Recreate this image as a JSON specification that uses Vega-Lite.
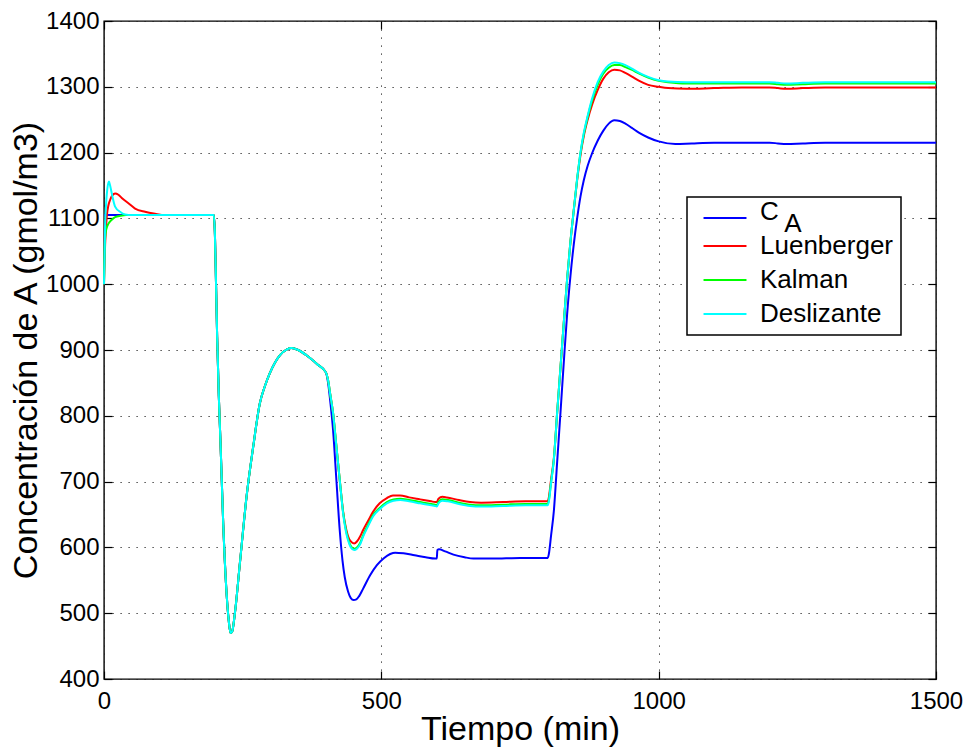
{
  "$schema": "https://vega.github.io/schema/vega-lite/v6.json",
  "width": 832,
  "height": 658,
  "autosize": {"type": "none"},
  "padding": {"left": 104, "top": 21, "right": 32, "bottom": 72},
  "background": "white",
  "config": {
    "view": {"stroke": "black", "strokeWidth": 1.4},
    "font": "Liberation Sans",
    "axis": {
      "labelFont": "Liberation Sans", "labelFontSize": 24, "labelColor": "black",
      "titleFont": "Liberation Sans", "titleFontSize": 34, "titleFontWeight": "normal", "titleColor": "black",
      "gridColor": "#222", "gridDash": [1.2, 6.8], "gridWidth": 1, "gridOpacity": 1,
      "tickColor": "black", "tickWidth": 1.2, "domain": false, "format": "d"
    }
  },
  "data": {"values": [
    {"s":"CA","t":0,"v":1105},{"s":"CA","t":100,"v":1105},
    {"s":"CA","t":198,"v":1105},{"s":"CA","t":200,"v":1075},{"s":"CA","t":202,"v":1000},{"s":"CA","t":204,"v":920},{"s":"CA","t":207,"v":830},{"s":"CA","t":210,"v":760},{"s":"CA","t":215,"v":635},{"s":"CA","t":221,"v":530},{"s":"CA","t":225,"v":488},{"s":"CA","t":228,"v":470},{"s":"CA","t":231,"v":472},{"s":"CA","t":236,"v":500},{"s":"CA","t":245,"v":576},{"s":"CA","t":257,"v":677},{"s":"CA","t":269,"v":753},{"s":"CA","t":281,"v":819},{"s":"CA","t":290,"v":845},{"s":"CA","t":299,"v":865},{"s":"CA","t":317,"v":892},{"s":"CA","t":330,"v":901},{"s":"CA","t":338,"v":903},{"s":"CA","t":350,"v":900},{"s":"CA","t":365,"v":892},{"s":"CA","t":385,"v":878},{"s":"CA","t":400,"v":866},
    {"s":"CA","t":404,"v":850},{"s":"CA","t":407,"v":829},{"s":"CA","t":413,"v":778},{"s":"CA","t":419,"v":702},{"s":"CA","t":425,"v":626},{"s":"CA","t":430,"v":580},{"s":"CA","t":434,"v":555},{"s":"CA","t":440,"v":533},{"s":"CA","t":445,"v":523},{"s":"CA","t":450,"v":520},{"s":"CA","t":455,"v":521},{"s":"CA","t":460,"v":526},{"s":"CA","t":467,"v":537},{"s":"CA","t":480,"v":558},{"s":"CA","t":492,"v":573},{"s":"CA","t":505,"v":584},{"s":"CA","t":516,"v":590},{"s":"CA","t":525,"v":592},{"s":"CA","t":540,"v":591},{"s":"CA","t":560,"v":588},{"s":"CA","t":580,"v":585},{"s":"CA","t":597,"v":583},{"s":"CA","t":600,"v":583},{"s":"CA","t":601,"v":596},{"s":"CA","t":604,"v":597},{"s":"CA","t":615,"v":594},{"s":"CA","t":630,"v":589},{"s":"CA","t":650,"v":585},{"s":"CA","t":666,"v":583},{"s":"CA","t":700,"v":583},{"s":"CA","t":750,"v":584},{"s":"CA","t":800,"v":584},{"s":"CA","t":802,"v":590},{"s":"CA","t":806,"v":618},{"s":"CA","t":811,"v":655},{"s":"CA","t":817,"v":730},{"s":"CA","t":823,"v":805},{"s":"CA","t":829,"v":882},{"s":"CA","t":835,"v":955},{"s":"CA","t":841,"v":1013},{"s":"CA","t":847,"v":1061},{"s":"CA","t":853,"v":1100},{"s":"CA","t":859,"v":1133},{"s":"CA","t":865,"v":1158},{"s":"CA","t":872,"v":1180},{"s":"CA","t":880,"v":1199},{"s":"CA","t":890,"v":1218},{"s":"CA","t":900,"v":1233},{"s":"CA","t":910,"v":1244},{"s":"CA","t":920,"v":1249},{"s":"CA","t":930,"v":1248},{"s":"CA","t":940,"v":1244},{"s":"CA","t":951,"v":1238},{"s":"CA","t":965,"v":1230},{"s":"CA","t":981,"v":1223},{"s":"CA","t":1000,"v":1217},{"s":"CA","t":1030,"v":1213},{"s":"CA","t":1060,"v":1214},{"s":"CA","t":1100,"v":1215},{"s":"CA","t":1150,"v":1215},{"s":"CA","t":1200,"v":1215},{"s":"CA","t":1215,"v":1214},{"s":"CA","t":1230,"v":1213},{"s":"CA","t":1260,"v":1214},{"s":"CA","t":1300,"v":1215},{"s":"CA","t":1400,"v":1215},{"s":"CA","t":1500,"v":1215},

    {"s":"Luenberger","t":0,"v":1000},{"s":"Luenberger","t":2,"v":1060},{"s":"Luenberger","t":5,"v":1103},{"s":"Luenberger","t":8,"v":1120},{"s":"Luenberger","t":11,"v":1128},{"s":"Luenberger","t":15,"v":1135},{"s":"Luenberger","t":20,"v":1138},{"s":"Luenberger","t":26,"v":1136},{"s":"Luenberger","t":32,"v":1131},{"s":"Luenberger","t":44,"v":1123},{"s":"Luenberger","t":56,"v":1115},{"s":"Luenberger","t":74,"v":1110},{"s":"Luenberger","t":92,"v":1107},{"s":"Luenberger","t":110,"v":1105},
    {"s":"Luenberger","t":198,"v":1105},{"s":"Luenberger","t":200,"v":1075},{"s":"Luenberger","t":202,"v":1000},{"s":"Luenberger","t":204,"v":920},{"s":"Luenberger","t":207,"v":830},{"s":"Luenberger","t":210,"v":760},{"s":"Luenberger","t":215,"v":635},{"s":"Luenberger","t":221,"v":530},{"s":"Luenberger","t":225,"v":488},{"s":"Luenberger","t":228,"v":470},{"s":"Luenberger","t":231,"v":472},{"s":"Luenberger","t":236,"v":500},{"s":"Luenberger","t":245,"v":576},{"s":"Luenberger","t":257,"v":677},{"s":"Luenberger","t":269,"v":753},{"s":"Luenberger","t":281,"v":819},{"s":"Luenberger","t":290,"v":845},{"s":"Luenberger","t":299,"v":865},{"s":"Luenberger","t":317,"v":892},{"s":"Luenberger","t":330,"v":901},{"s":"Luenberger","t":338,"v":903},{"s":"Luenberger","t":350,"v":900},{"s":"Luenberger","t":365,"v":892},{"s":"Luenberger","t":385,"v":878},{"s":"Luenberger","t":400,"v":866},
    {"s":"Luenberger","t":404,"v":854},{"s":"Luenberger","t":408,"v":832},{"s":"Luenberger","t":413,"v":804},{"s":"Luenberger","t":418,"v":762},{"s":"Luenberger","t":422,"v":728},{"s":"Luenberger","t":427,"v":686},{"s":"Luenberger","t":431,"v":655},{"s":"Luenberger","t":436,"v":630},{"s":"Luenberger","t":440,"v":617},{"s":"Luenberger","t":445,"v":609},{"s":"Luenberger","t":451,"v":606},{"s":"Luenberger","t":456,"v":609},{"s":"Luenberger","t":462,"v":617},{"s":"Luenberger","t":467,"v":626},{"s":"Luenberger","t":476,"v":640},{"s":"Luenberger","t":485,"v":654},{"s":"Luenberger","t":497,"v":667},{"s":"Luenberger","t":510,"v":675},{"s":"Luenberger","t":521,"v":679},{"s":"Luenberger","t":534,"v":679},{"s":"Luenberger","t":550,"v":676},{"s":"Luenberger","t":570,"v":673},{"s":"Luenberger","t":590,"v":670},{"s":"Luenberger","t":597,"v":669},{"s":"Luenberger","t":600,"v":669},{"s":"Luenberger","t":603,"v":674},{"s":"Luenberger","t":610,"v":677},{"s":"Luenberger","t":618,"v":676},{"s":"Luenberger","t":640,"v":672},{"s":"Luenberger","t":660,"v":669},{"s":"Luenberger","t":680,"v":668},{"s":"Luenberger","t":720,"v":669},{"s":"Luenberger","t":760,"v":670},{"s":"Luenberger","t":800,"v":670},{"s":"Luenberger","t":802,"v":676},{"s":"Luenberger","t":806,"v":703},{"s":"Luenberger","t":811,"v":735},{"s":"Luenberger","t":817,"v":805},{"s":"Luenberger","t":826,"v":908},{"s":"Luenberger","t":835,"v":1008},{"s":"Luenberger","t":841,"v":1065},{"s":"Luenberger","t":847,"v":1113},{"s":"Luenberger","t":853,"v":1158},{"s":"Luenberger","t":859,"v":1196},{"s":"Luenberger","t":865,"v":1225},{"s":"Luenberger","t":872,"v":1250},{"s":"Luenberger","t":880,"v":1273},{"s":"Luenberger","t":890,"v":1295},{"s":"Luenberger","t":900,"v":1312},{"s":"Luenberger","t":910,"v":1322},{"s":"Luenberger","t":920,"v":1326},{"s":"Luenberger","t":930,"v":1325},{"s":"Luenberger","t":940,"v":1321},{"s":"Luenberger","t":951,"v":1316},{"s":"Luenberger","t":965,"v":1309},{"s":"Luenberger","t":981,"v":1303},{"s":"Luenberger","t":1000,"v":1300},{"s":"Luenberger","t":1017,"v":1298},{"s":"Luenberger","t":1050,"v":1297},{"s":"Luenberger","t":1100,"v":1298},{"s":"Luenberger","t":1150,"v":1299},{"s":"Luenberger","t":1200,"v":1299},{"s":"Luenberger","t":1215,"v":1298},{"s":"Luenberger","t":1230,"v":1297},{"s":"Luenberger","t":1260,"v":1298},{"s":"Luenberger","t":1300,"v":1299},{"s":"Luenberger","t":1500,"v":1299},

    {"s":"Kalman","t":0,"v":1000},{"s":"Kalman","t":1,"v":1045},{"s":"Kalman","t":2,"v":1070},{"s":"Kalman","t":4,"v":1083},{"s":"Kalman","t":8,"v":1092},{"s":"Kalman","t":14,"v":1098},{"s":"Kalman","t":20,"v":1102},{"s":"Kalman","t":30,"v":1104},{"s":"Kalman","t":40,"v":1105},{"s":"Kalman","t":100,"v":1105},
    {"s":"Kalman","t":198,"v":1105},{"s":"Kalman","t":200,"v":1075},{"s":"Kalman","t":202,"v":1000},{"s":"Kalman","t":204,"v":920},{"s":"Kalman","t":207,"v":830},{"s":"Kalman","t":210,"v":760},{"s":"Kalman","t":215,"v":635},{"s":"Kalman","t":221,"v":530},{"s":"Kalman","t":225,"v":488},{"s":"Kalman","t":228,"v":470},{"s":"Kalman","t":231,"v":472},{"s":"Kalman","t":236,"v":500},{"s":"Kalman","t":245,"v":576},{"s":"Kalman","t":257,"v":677},{"s":"Kalman","t":269,"v":753},{"s":"Kalman","t":281,"v":819},{"s":"Kalman","t":290,"v":845},{"s":"Kalman","t":299,"v":865},{"s":"Kalman","t":317,"v":892},{"s":"Kalman","t":330,"v":901},{"s":"Kalman","t":338,"v":903},{"s":"Kalman","t":350,"v":900},{"s":"Kalman","t":365,"v":892},{"s":"Kalman","t":385,"v":878},{"s":"Kalman","t":400,"v":866},
    {"s":"Kalman","t":404,"v":854},{"s":"Kalman","t":408,"v":832},{"s":"Kalman","t":413,"v":804},{"s":"Kalman","t":418,"v":762},{"s":"Kalman","t":422,"v":728},{"s":"Kalman","t":427,"v":686},{"s":"Kalman","t":431,"v":654},{"s":"Kalman","t":436,"v":627},{"s":"Kalman","t":440,"v":613},{"s":"Kalman","t":445,"v":602},{"s":"Kalman","t":451,"v":598},{"s":"Kalman","t":456,"v":600},{"s":"Kalman","t":462,"v":607},{"s":"Kalman","t":467,"v":618},{"s":"Kalman","t":476,"v":634},{"s":"Kalman","t":485,"v":649},{"s":"Kalman","t":497,"v":660},{"s":"Kalman","t":510,"v":669},{"s":"Kalman","t":522,"v":673},{"s":"Kalman","t":534,"v":674},{"s":"Kalman","t":550,"v":672},{"s":"Kalman","t":570,"v":669},{"s":"Kalman","t":590,"v":666},{"s":"Kalman","t":597,"v":665},{"s":"Kalman","t":600,"v":664},{"s":"Kalman","t":603,"v":669},{"s":"Kalman","t":610,"v":673},{"s":"Kalman","t":620,"v":672},{"s":"Kalman","t":640,"v":668},{"s":"Kalman","t":660,"v":665},{"s":"Kalman","t":680,"v":664},{"s":"Kalman","t":720,"v":665},{"s":"Kalman","t":760,"v":666},{"s":"Kalman","t":800,"v":666},{"s":"Kalman","t":802,"v":672},{"s":"Kalman","t":806,"v":699},{"s":"Kalman","t":811,"v":733},{"s":"Kalman","t":817,"v":805},{"s":"Kalman","t":826,"v":908},{"s":"Kalman","t":835,"v":1008},{"s":"Kalman","t":841,"v":1065},{"s":"Kalman","t":847,"v":1113},{"s":"Kalman","t":853,"v":1160},{"s":"Kalman","t":859,"v":1199},{"s":"Kalman","t":865,"v":1228},{"s":"Kalman","t":872,"v":1254},{"s":"Kalman","t":880,"v":1279},{"s":"Kalman","t":890,"v":1303},{"s":"Kalman","t":900,"v":1320},{"s":"Kalman","t":910,"v":1329},{"s":"Kalman","t":920,"v":1333},{"s":"Kalman","t":930,"v":1333},{"s":"Kalman","t":940,"v":1330},{"s":"Kalman","t":951,"v":1326},{"s":"Kalman","t":965,"v":1320},{"s":"Kalman","t":981,"v":1314},{"s":"Kalman","t":1000,"v":1309},{"s":"Kalman","t":1017,"v":1307},{"s":"Kalman","t":1050,"v":1305},{"s":"Kalman","t":1100,"v":1305},{"s":"Kalman","t":1150,"v":1305},{"s":"Kalman","t":1200,"v":1305},{"s":"Kalman","t":1215,"v":1304},{"s":"Kalman","t":1230,"v":1303},{"s":"Kalman","t":1260,"v":1304},{"s":"Kalman","t":1300,"v":1305},{"s":"Kalman","t":1500,"v":1305},

    {"s":"Deslizante","t":0,"v":1000},{"s":"Deslizante","t":1,"v":1040},{"s":"Deslizante","t":2,"v":1087},{"s":"Deslizante","t":4,"v":1125},{"s":"Deslizante","t":6,"v":1145},{"s":"Deslizante","t":9,"v":1156},{"s":"Deslizante","t":11,"v":1150},{"s":"Deslizante","t":14,"v":1138},{"s":"Deslizante","t":20,"v":1118},{"s":"Deslizante","t":29,"v":1110},{"s":"Deslizante","t":38,"v":1106},{"s":"Deslizante","t":50,"v":1105},{"s":"Deslizante","t":100,"v":1105},
    {"s":"Deslizante","t":198,"v":1105},{"s":"Deslizante","t":200,"v":1075},{"s":"Deslizante","t":202,"v":1000},{"s":"Deslizante","t":204,"v":920},{"s":"Deslizante","t":207,"v":830},{"s":"Deslizante","t":210,"v":760},{"s":"Deslizante","t":215,"v":635},{"s":"Deslizante","t":221,"v":530},{"s":"Deslizante","t":225,"v":488},{"s":"Deslizante","t":228,"v":470},{"s":"Deslizante","t":231,"v":472},{"s":"Deslizante","t":236,"v":500},{"s":"Deslizante","t":245,"v":576},{"s":"Deslizante","t":257,"v":677},{"s":"Deslizante","t":269,"v":753},{"s":"Deslizante","t":281,"v":819},{"s":"Deslizante","t":290,"v":845},{"s":"Deslizante","t":299,"v":865},{"s":"Deslizante","t":317,"v":892},{"s":"Deslizante","t":330,"v":901},{"s":"Deslizante","t":338,"v":903},{"s":"Deslizante","t":350,"v":900},{"s":"Deslizante","t":365,"v":892},{"s":"Deslizante","t":385,"v":878},{"s":"Deslizante","t":400,"v":866},
    {"s":"Deslizante","t":404,"v":854},{"s":"Deslizante","t":408,"v":832},{"s":"Deslizante","t":413,"v":804},{"s":"Deslizante","t":418,"v":762},{"s":"Deslizante","t":422,"v":728},{"s":"Deslizante","t":427,"v":685},{"s":"Deslizante","t":431,"v":652},{"s":"Deslizante","t":436,"v":625},{"s":"Deslizante","t":440,"v":611},{"s":"Deslizante","t":445,"v":600},{"s":"Deslizante","t":451,"v":596},{"s":"Deslizante","t":456,"v":598},{"s":"Deslizante","t":462,"v":605},{"s":"Deslizante","t":467,"v":616},{"s":"Deslizante","t":476,"v":632},{"s":"Deslizante","t":485,"v":647},{"s":"Deslizante","t":497,"v":658},{"s":"Deslizante","t":510,"v":667},{"s":"Deslizante","t":522,"v":671},{"s":"Deslizante","t":534,"v":672},{"s":"Deslizante","t":550,"v":670},{"s":"Deslizante","t":570,"v":667},{"s":"Deslizante","t":590,"v":664},{"s":"Deslizante","t":597,"v":663},{"s":"Deslizante","t":600,"v":662},{"s":"Deslizante","t":603,"v":667},{"s":"Deslizante","t":610,"v":671},{"s":"Deslizante","t":620,"v":670},{"s":"Deslizante","t":640,"v":666},{"s":"Deslizante","t":660,"v":663},{"s":"Deslizante","t":680,"v":662},{"s":"Deslizante","t":720,"v":663},{"s":"Deslizante","t":760,"v":664},{"s":"Deslizante","t":800,"v":664},{"s":"Deslizante","t":802,"v":670},{"s":"Deslizante","t":806,"v":698},{"s":"Deslizante","t":811,"v":733},{"s":"Deslizante","t":817,"v":805},{"s":"Deslizante","t":826,"v":908},{"s":"Deslizante","t":835,"v":1008},{"s":"Deslizante","t":841,"v":1065},{"s":"Deslizante","t":847,"v":1113},{"s":"Deslizante","t":853,"v":1160},{"s":"Deslizante","t":859,"v":1200},{"s":"Deslizante","t":865,"v":1230},{"s":"Deslizante","t":872,"v":1256},{"s":"Deslizante","t":880,"v":1282},{"s":"Deslizante","t":890,"v":1307},{"s":"Deslizante","t":900,"v":1323},{"s":"Deslizante","t":910,"v":1333},{"s":"Deslizante","t":920,"v":1337},{"s":"Deslizante","t":930,"v":1336},{"s":"Deslizante","t":940,"v":1333},{"s":"Deslizante","t":951,"v":1328},{"s":"Deslizante","t":965,"v":1321},{"s":"Deslizante","t":981,"v":1315},{"s":"Deslizante","t":1000,"v":1310},{"s":"Deslizante","t":1017,"v":1308},{"s":"Deslizante","t":1050,"v":1307},{"s":"Deslizante","t":1100,"v":1307},{"s":"Deslizante","t":1150,"v":1307},{"s":"Deslizante","t":1200,"v":1307},{"s":"Deslizante","t":1215,"v":1306},{"s":"Deslizante","t":1230,"v":1305},{"s":"Deslizante","t":1260,"v":1306},{"s":"Deslizante","t":1300,"v":1307},{"s":"Deslizante","t":1500,"v":1307}
  ]},
  "layer": [
    {
      "mark": {"type": "line", "strokeWidth": 2, "interpolate": "monotone"},
      "encoding": {
        "x": {"field": "t", "type": "quantitative", "scale": {"domain": [0, 1500], "nice": false},
              "axis": {"orient": "bottom", "title": "Tiempo (min)", "values": [0, 500, 1000, 1500], "labelFlush": false, "grid": true,
                       "ticks": true, "tickSize": -8, "labelPadding": 18,
                       "titleX": 416, "titleY": 60, "titleBaseline": "alphabetic", "titleAnchor": "middle"}},
        "y": {"field": "v", "type": "quantitative", "scale": {"domain": [400, 1400], "nice": false},
              "axis": {"orient": "left", "title": "Concentración de A (gmol/m3)", "values": [400,500,600,700,800,900,1000,1100,1200,1300,1400], "grid": true,
                       "ticks": true, "tickSize": -8, "labelPadding": 13,
                       "titleX": -68, "titleY": 329, "titleAngle": 270, "titleBaseline": "alphabetic", "titleAlign": "center"}},
        "color": {"field": "s", "type": "nominal",
                  "scale": {"domain": ["CA", "Luenberger", "Kalman", "Deslizante"], "range": ["#0000ff", "#ff0000", "#00ff00", "#00ffff"]},
                  "legend": {"orient": "none", "legendX": 583, "legendY": 176, "title": null,
                             "symbolType": "M-3,0H3", "symbolSize": 205, "symbolStrokeWidth": 2,
                             "labelFont": "Liberation Sans", "labelFontSize": 26, "labelColor": "black",
                             "strokeColor": "black", "fillColor": "white", "padding": 8, "symbolOffset": 17,
                             "labelOffset": 22, "rowPadding": 8,
                             "labelExpr": "datum.value == 'CA' ? ['\u2800\u2009A', 'C'] : datum.label",
                             "encode": {"labels": {"update": {"lineHeight": {"signal": "datum.value == 'CA' ? -12 : 26"}, "dy": {"signal": "datum.value == 'CA' ? 6 : 0"}}},
                                        "legend": {"update": {"strokeWidth": {"value": 1.5}}}}}}
      }
    },
    {
      "mark": {"type": "line", "strokeOpacity": 0},
      "encoding": {
        "x": {"field": "t", "type": "quantitative",
              "axis": {"orient": "top", "labels": false, "title": null, "grid": false, "values": [0, 500, 1000, 1500],
                       "ticks": true, "tickSize": 8, "offset": -8}},
        "y": {"field": "v", "type": "quantitative",
              "axis": {"orient": "right", "labels": false, "title": null, "grid": false, "values": [400,500,600,700,800,900,1000,1100,1200,1300,1400],
                       "ticks": true, "tickSize": 8, "offset": -8}}
      }
    }
  ],
  "resolve": {"axis": {"x": "independent", "y": "independent"}}
}
